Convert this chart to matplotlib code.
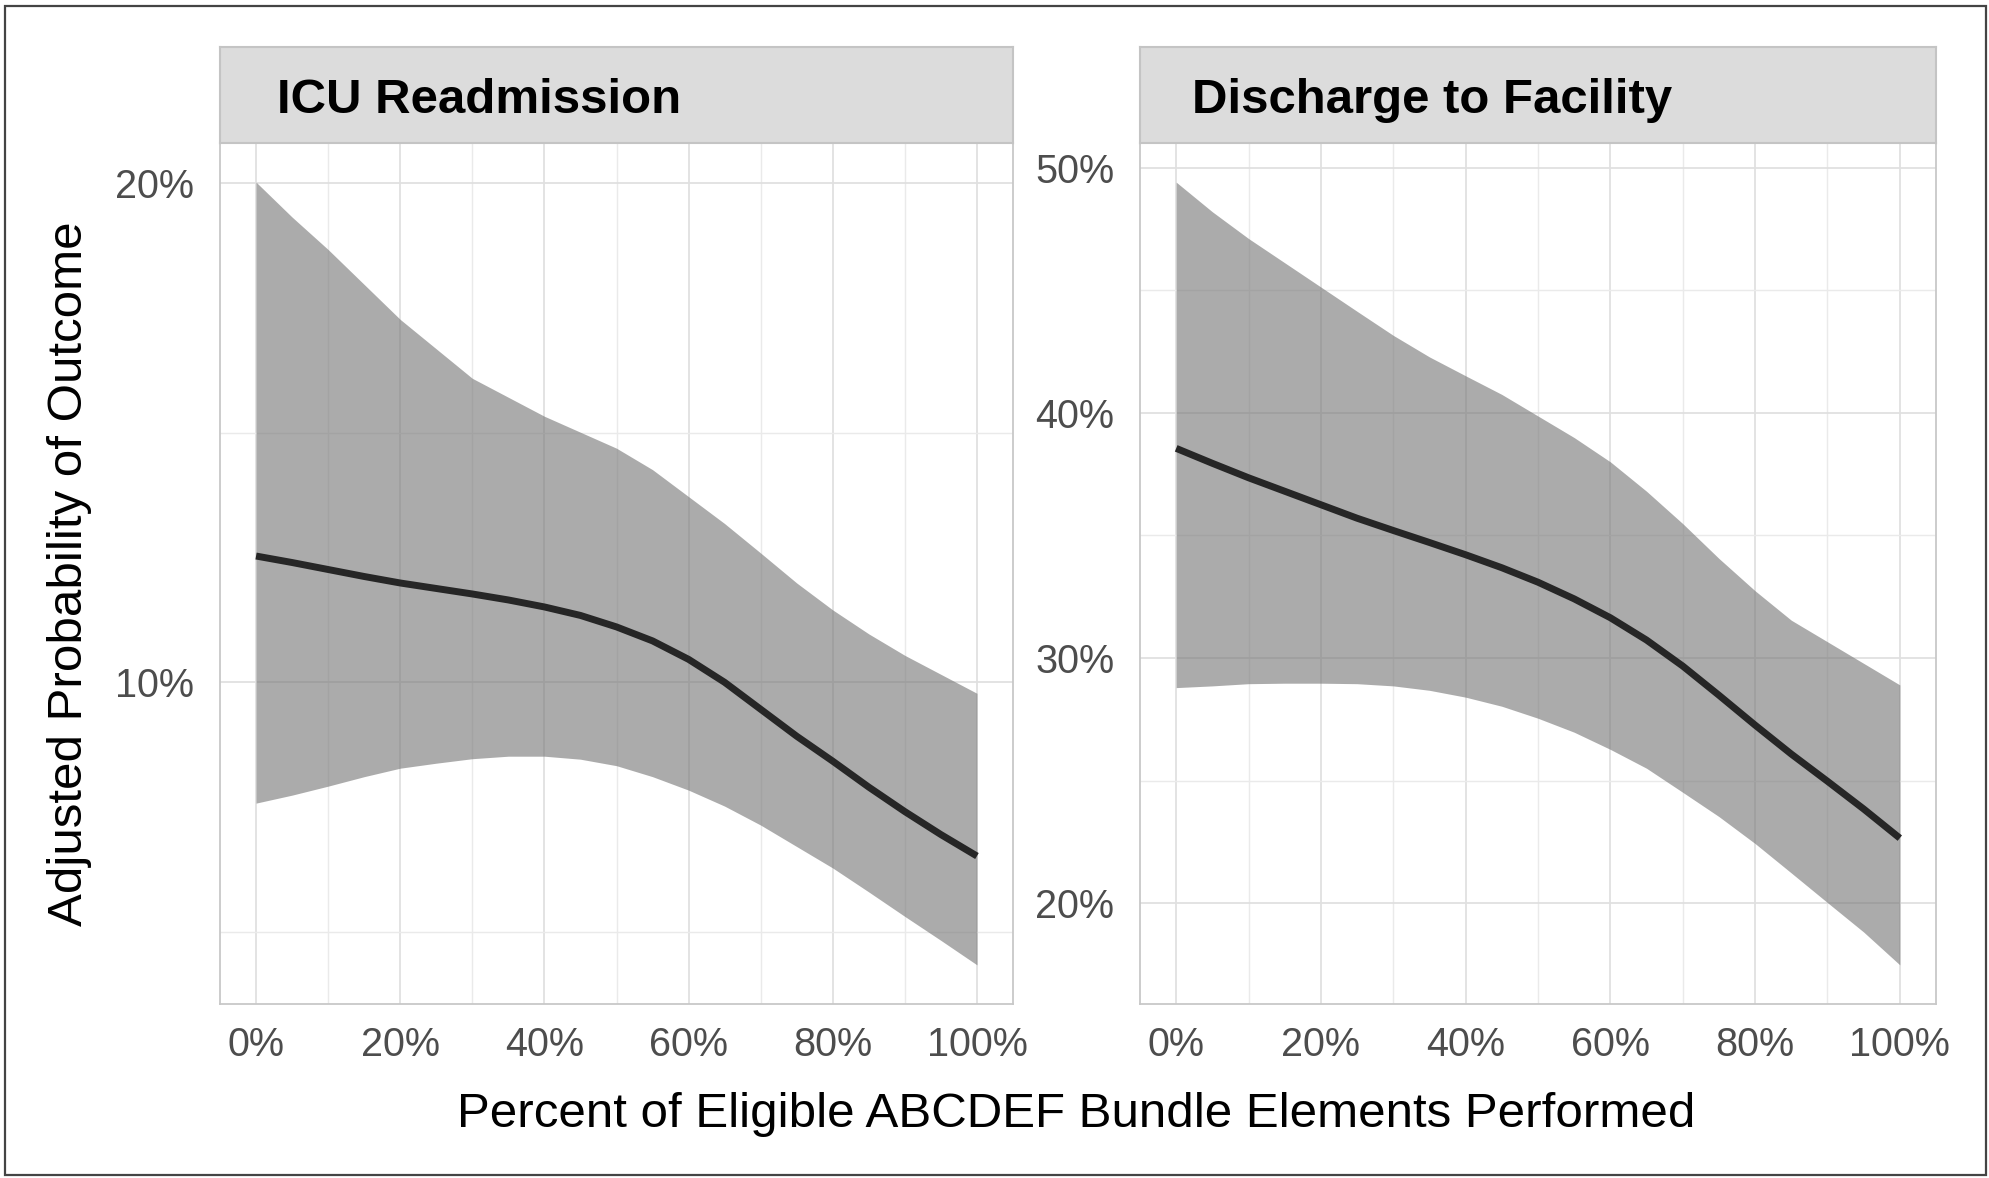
import numpy as np
import matplotlib.pyplot as plt
from matplotlib.ticker import PercentFormatter, FixedLocator
from matplotlib.patches import Rectangle

plt.rcParams['font.family'] = ['Liberation Sans', 'DejaVu Sans']

# percent of bundle elements performed
pct = [0, 5, 10, 15, 20, 25, 30, 35, 40, 45, 50, 55, 60, 65, 70, 75, 80, 85, 90, 95, 100]

# ICU readmission
icu_fit = [0.1253, 0.1240, 0.1226, 0.1212, 0.1199, 0.1188, 0.1177, 0.1165, 0.1151, 0.1134, 0.1111,
           0.1083, 0.1046, 0.1000, 0.0946, 0.0892, 0.0842, 0.0790, 0.0741, 0.0695, 0.0652]
icu_lo = [0.0758, 0.0774, 0.0792, 0.0811, 0.0828, 0.0838, 0.0847, 0.0852, 0.0852, 0.0846, 0.0833,
          0.0811, 0.0784, 0.0752, 0.0714, 0.0671, 0.0628, 0.0580, 0.0531, 0.0483, 0.0434]
icu_hi = [0.2002, 0.1932, 0.1867, 0.1797, 0.1727, 0.1668, 0.1609, 0.1571, 0.1533, 0.1501, 0.1469,
          0.1426, 0.1372, 0.1318, 0.1259, 0.1199, 0.1145, 0.1097, 0.1054, 0.1016, 0.0978]

# discharge to facility
dis_fit = [0.3855, 0.3794, 0.3735, 0.3680, 0.3625, 0.3570, 0.3520, 0.3471, 0.3421, 0.3368, 0.3309,
           0.3241, 0.3164, 0.3073, 0.2967, 0.2848, 0.2726, 0.2608, 0.2497, 0.2384, 0.2265]
dis_lo = [0.2879, 0.2886, 0.2895, 0.2897, 0.2897, 0.2895, 0.2886, 0.2868, 0.2840, 0.2803, 0.2754,
          0.2697, 0.2627, 0.2550, 0.2452, 0.2353, 0.2243, 0.2123, 0.2002, 0.1882, 0.1748]
dis_hi = [0.4941, 0.4820, 0.4711, 0.4612, 0.4513, 0.4414, 0.4316, 0.4228, 0.4151, 0.4075, 0.3987,
          0.3899, 0.3800, 0.3680, 0.3548, 0.3406, 0.3274, 0.3154, 0.3066, 0.2978, 0.2890]

panels = [
    ("ICU Readmission", icu_fit, icu_lo, icu_hi, [0.1, 0.2], [0.05, 0.15]),
    ("Discharge to Facility", dis_fit, dis_lo, dis_hi, [0.2, 0.3, 0.4, 0.5], [0.25, 0.35, 0.45]),
]

W, H = 1990, 1178
fig = plt.figure(figsize=(W / 100, H / 100), dpi=100)

# panel geometry in pixels: left, right, and strip text offset
geom = [(220, 1013, 57), (1140, 1936, 52)]
strip_top, plot_top, plot_bot = 47, 143, 1004

for (title, fit, lo, hi, major, minor), (x0, x1, toff) in zip(panels, geom):
    ax = fig.add_axes([x0 / W, 1 - plot_bot / H, (x1 - x0) / W, (plot_bot - plot_top) / H])
    ax.fill_between(pct, lo, hi, color='#747474', alpha=0.6, lw=0, zorder=2)
    ax.plot(pct, fit, color='#262626', lw=5.0, solid_capstyle='butt',
            solid_joinstyle='round', zorder=3)

    ax.set_xlim(-5, 105)
    ymin, ymax = min(lo), max(hi)
    pad = 0.05 * (ymax - ymin)
    ax.set_ylim(ymin - pad, ymax + pad)

    ax.xaxis.set_major_locator(FixedLocator([0, 20, 40, 60, 80, 100]))
    ax.xaxis.set_minor_locator(FixedLocator([10, 30, 50, 70, 90]))
    ax.yaxis.set_major_locator(FixedLocator(major))
    ax.yaxis.set_minor_locator(FixedLocator(minor))
    ax.xaxis.set_major_formatter(PercentFormatter(xmax=100, decimals=0))
    ax.yaxis.set_major_formatter(PercentFormatter(xmax=1, decimals=0))

    ax.grid(which='major', color='#E0E0E0', lw=1.3, zorder=0)
    ax.grid(which='minor', color='#EAEAEA', lw=1.0, zorder=0)
    ax.set_axisbelow(True)
    ax.tick_params(which='both', length=0, labelsize=28.5, labelcolor='#4D4D4D')
    ax.tick_params(axis='y', pad=18.5)
    ax.tick_params(axis='x', pad=15.5)
    for s in ax.spines.values():
        s.set_color('#C8C8C8')
        s.set_linewidth(1.3)

    # facet strip
    sax = fig.add_axes([x0 / W, 1 - plot_top / H, (x1 - x0) / W, (plot_top - strip_top) / H])
    sax.set_xticks([])
    sax.set_yticks([])
    sax.set_facecolor('#DCDCDC')
    for s in sax.spines.values():
        s.set_color('#C4C4C4')
        s.set_linewidth(1.5)
    sax.text(toff / (x1 - x0), 0.3125, title, transform=sax.transAxes,
             ha='left', va='baseline', fontsize=35.4, fontweight='bold', color='black')

fig.text(1076 / W, 1 - 1127 / H, "Percent of Eligible ABCDEF Bundle Elements Performed",
         ha='center', va='baseline', fontsize=35.5, color='black')
fig.text(82 / W, 1 - 573.5 / H, "Adjusted Probability of Outcome", rotation=90,
         rotation_mode='anchor', ha='center', va='baseline', fontsize=35.5, color='black')

# outer frame
fig.patches.append(Rectangle((5 / W, 3 / H), 1981 / W, 1169 / H, transform=fig.transFigure,
                             fill=False, edgecolor='#444444', lw=1.6))

fig.savefig('out.png', dpi=100)
